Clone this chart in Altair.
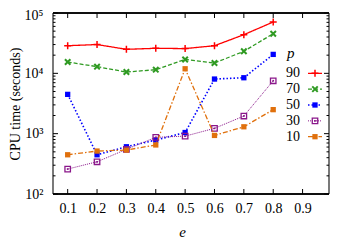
import altair as alt
import pandas as pd

# ---- data ----
e_values = [0.1, 0.2, 0.3, 0.4, 0.5, 0.6, 0.7, 0.8]
p_labels = ["90", "70", "50", "30", "10"]
t_p90 = [28700, 30000, 25000, 26000, 25700, 28700, 43700, 71000]
t_p70 = [15400, 12900, 10500, 11500, 17000, 14800, 23200, 45400]
t_p50 = [4480, 447, 607, 783, 1045, 8040, 8450, 20600]
t_p30 = [259, 342, 550, 870, 910, 1225, 1960, 7530]
t_p10 = [447, 515, 535, 650, 11900, 935, 1300, 2500]

x_ticks = [0.1, 0.2, 0.3, 0.4, 0.5, 0.6, 0.7, 0.8, 0.9]
y_major = [100, 1000, 10000, 100000]
y_minor = [200, 300, 400, 500, 600, 700, 800, 900,
           2000, 3000, 4000, 5000, 6000, 7000, 8000, 9000,
           20000, 30000, 40000, 50000, 60000, 70000, 80000, 90000]

series = {"90": t_p90, "70": t_p70, "50": t_p50, "30": t_p30, "10": t_p10}

rows = []
for p, vals in series.items():
    for e, t in zip(e_values, vals):
        rows.append({"p": p, "e": e, "t": t})
df = pd.DataFrame(rows)
df_leg = pd.DataFrame({"p": p_labels, "idx": list(range(len(p_labels)))})
df_xt = pd.DataFrame({"e": x_ticks})
df_ymaj = pd.DataFrame({"t": y_major})
df_ymin = pd.DataFrame({"t": y_minor})

W, H = 276, 181
FONT = "Liberation Serif"

PLUS = "M-1,0L1,0M0,-1L0,1"
CROSS = "M-1,-1L1,1M-1,1L1,-1"
styles = {
    "90": dict(color="#ff0000", dash=[1, 0], lw=1.3, shape=PLUS, filled=False, size=49, sw=1.5),
    "70": dict(color="#2f9a22", dash=[4, 2], lw=1.3, shape=CROSS, filled=False, size=30, sw=2),
    "50": dict(color="#0000ff", dash=[1.5, 2], lw=1.6, shape="square", filled=True, size=28, sw=1),
    "30": dict(color="#8a168a", dash=[1, 1], lw=1.0, shape="square", filled=False, size=30, sw=1.3),
    "10": dict(color="#e0700c", dash=[5, 2, 1.5, 2], lw=1.3, shape="square", filled=True, size=28, sw=1),
}

xscale = alt.Scale(domain=[0.05, 0.99], nice=False, zero=False)
yscale = alt.Scale(type="log", domain=[100, 100000], nice=False)
leg_scale = alt.Scale(domain=[0, 4], range=[60.3, 123.7], zero=False, nice=False)

x_axis = alt.Axis(
    values=x_ticks, format=".1f", title="e", grid=False, ticks=False, tickSize=0,
    domain=False, labelFont=FONT, labelFontSize=14, labelColor="black",
    labelPadding=7, titleFont=FONT, titleFontSize=15, titleFontStyle="italic",
    titleFontWeight="normal", titleX=129, titleY=42, titleBaseline="alphabetic",
    titleColor="black")
y_axis = alt.Axis(
    values=y_major, grid=False, ticks=False, tickSize=0, domain=False,
    labelExpr="'10' + ['\u2070','\u00b9','\u00b2','\u00b3','\u2074','\u2075'][round(log(datum.value)/LN10)]",
    labelFont=FONT, labelFontSize=14, labelColor="black", labelPadding=10,
    labelOffset={"condition": {"test": "datum.value >= 100000", "value": 2}, "value": 0},
    title="CPU time (seconds)", titleFont=FONT, titleFontSize=14,
    titleFontWeight="normal", titleColor="black", titleX=-38, titleY=H / 2,
    titleBaseline="middle", titleAlign="center", titleAngle=270)

X = alt.X("e:Q", scale=xscale, axis=x_axis)
Y_AX = alt.Y("t:Q", scale=yscale, axis=y_axis)
Y = alt.Y("t:Q", scale=yscale, axis=None)

base = alt.Chart(df)
layers = []
first = True
for p in p_labels:
    s = styles[p]
    sub = base.transform_filter(alt.datum.p == p)
    layers.append(sub.mark_line(color=s["color"], strokeDash=s["dash"], strokeWidth=s["lw"]).encode(
        x=X, y=(Y_AX if first else Y)))
    first = False
    layers.append(sub.mark_point(color=s["color"], shape=s["shape"], filled=s["filled"], size=s["size"],
                                 strokeWidth=s["sw"], opacity=1).encode(x=X, y=Y))
    if p == "30":
        layers.append(sub.mark_point(color=s["color"], shape="square", filled=True, size=3,
                                     opacity=1).encode(x=X, y=Y))

# frame
frame_l = alt.Chart(df_ymaj).mark_rule(color="#7a7a7a", strokeWidth=1.6).encode(
    x=alt.value(0), y=alt.value(0), y2=alt.value(H))
frame_r = alt.Chart(df_ymaj).mark_rule(color="#7a7a7a", strokeWidth=1.6).encode(
    x=alt.value(W), y=alt.value(0), y2=alt.value(H))
frame_t = alt.Chart(df_ymaj).mark_rule(color="black", strokeWidth=1).encode(
    x=alt.value(0), x2=alt.value(W), y=alt.value(0))
frame_b = alt.Chart(df_ymaj).mark_rule(color="black", strokeWidth=1).encode(
    x=alt.value(0), x2=alt.value(W), y=alt.value(H))
layers += [frame_l, frame_r, frame_t, frame_b]

# inward ticks
layers.append(alt.Chart(df_xt).mark_rule(color="black").encode(x=X, y=alt.value(H), y2=alt.value(H - 5)))
layers.append(alt.Chart(df_xt).mark_rule(color="black").encode(x=X, y=alt.value(0), y2=alt.value(5)))
layers.append(alt.Chart(df_ymaj).mark_rule(color="black").encode(y=Y, x=alt.value(0), x2=alt.value(5)))
layers.append(alt.Chart(df_ymaj).mark_rule(color="black").encode(y=Y, x=alt.value(W), x2=alt.value(W - 5)))
layers.append(alt.Chart(df_ymin).mark_rule(color="black").encode(y=Y, x=alt.value(0), x2=alt.value(2.5)))
layers.append(alt.Chart(df_ymin).mark_rule(color="black").encode(y=Y, x=alt.value(W), x2=alt.value(W - 2.5)))

# legend
legy = alt.Y("idx:Q", scale=leg_scale, axis=None)
layers.append(alt.Chart(df_leg).mark_text(align="right", baseline="middle", font=FONT, fontSize=14,
                                          color="black").encode(x=alt.value(247), y=legy, text="p:N"))
layers.append(alt.Chart(df_leg).transform_filter(alt.datum.idx == 0).mark_text(
    align="left", baseline="alphabetic", font=FONT, fontSize=15, fontStyle="italic", color="black",
    text="p").encode(x=alt.value(234), y=alt.value(45)))
for p in p_labels:
    s = styles[p]
    sub = alt.Chart(df_leg).transform_filter(alt.datum.p == p)
    layers.append(sub.mark_rule(color=s["color"], strokeDash=s["dash"], strokeWidth=s["lw"]).encode(
        x=alt.value(255), x2=alt.value(269), y=legy))
    layers.append(sub.mark_point(color=s["color"], shape=s["shape"], filled=s["filled"], size=s["size"],
                                 strokeWidth=s["sw"], opacity=1).encode(x=alt.value(262), y=legy))
    if p == "30":
        layers.append(sub.mark_point(color=s["color"], shape="square", filled=True, size=3,
                                     opacity=1).encode(x=alt.value(262), y=legy))

chart = alt.layer(*layers).resolve_scale(y="independent").properties(
    width=W, height=H, autosize="none",
    padding={"left": 45, "top": 5, "right": 10, "bottom": 50},
).configure_view(stroke=None)

chart.save("out.html", embed_options={"renderer": "svg", "actions": False})
